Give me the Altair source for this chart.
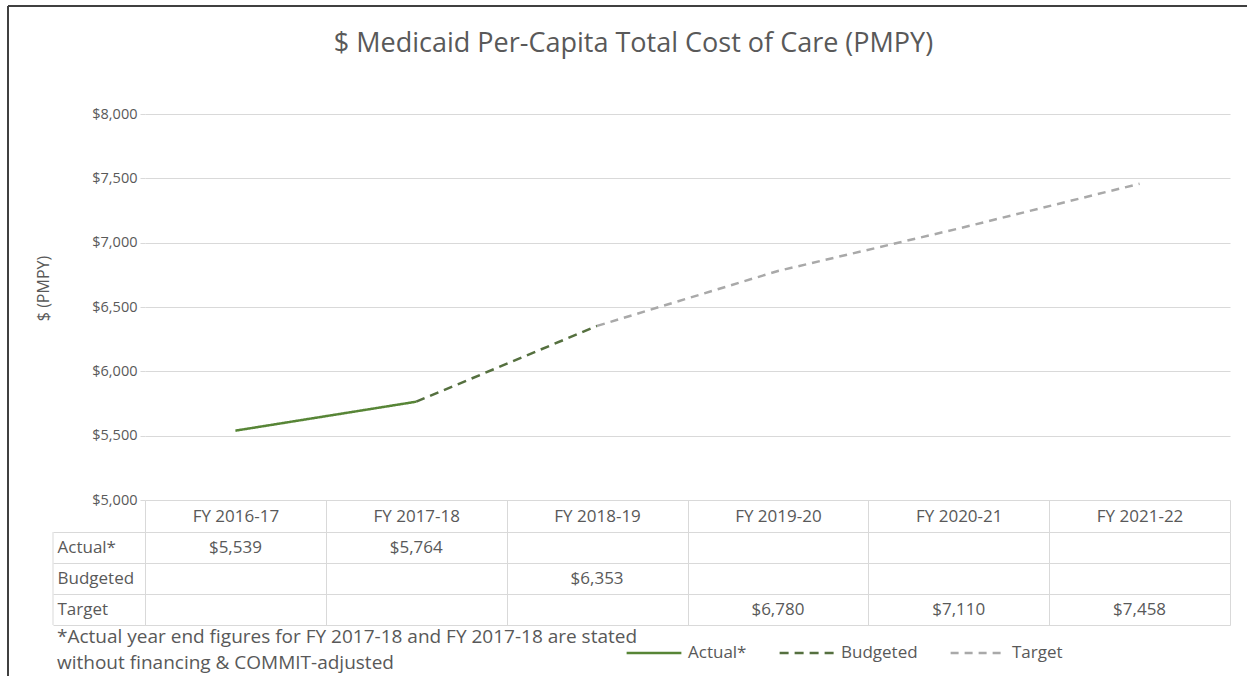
import altair as alt
import pandas as pd

# ---------------- data ----------------
years = ["FY 2016-17", "FY 2017-18", "FY 2018-19", "FY 2019-20", "FY 2020-21", "FY 2021-22"]
series = ["Actual*", "Budgeted", "Target"]
actual = [5539, 5764, None, None, None, None]
budgeted = [None, None, 6353, None, None, None]
target = [None, None, None, 6780, 7110, 7458]
y_ticks = [5000, 5500, 6000, 6500, 7000, 7500, 8000]
footnote = ["*Actual year end figures for FY 2017-18 and FY 2017-18 are stated",
            "without financing & COMMIT-adjusted"]
title_text = "$ Medicaid Per-Capita Total Cost of Care (PMPY)"

colors = ["#578536", "#55703F", "#A9A9A9"]
dashes = [[1, 0], [9, 6], [8, 6]]
TXT = "#595959"
GRID = "#D9D9D9"
FONT = "Open Sans"

series_vals = [actual, budgeted, target]

# line data: each later series starts from the last point of the previous one
line_rows = []
prev_last = None
for name, vals in zip(series, series_vals):
    if prev_last is not None:
        line_rows.append(dict(series=name, year=prev_last[0], value=prev_last[1]))
    for y, v in zip(years, vals):
        if v is not None:
            line_rows.append(dict(series=name, year=y, value=v))
            prev_last = (y, v)
line_df = pd.DataFrame(line_rows)

# table cells
cell_rows = []
for name, vals in zip(series, series_vals):
    for y, v in zip(years, vals):
        if v is not None:
            cell_rows.append(dict(row=name, year=y, label=f"${v:,}"))
cell_df = pd.DataFrame(cell_rows)

one = pd.DataFrame({"k": [0]})

# ---------------- top chart ----------------
legend = alt.Legend(
    orient="none", legendX=480, legendY=510, direction="horizontal", title=None,
    symbolType="stroke", symbolSize=3000, symbolStrokeWidth=2.5,
    labelFontSize=17, labelColor=TXT, labelFont=FONT, columnPadding=27, labelOffset=5,
)

lines = alt.Chart(line_df).mark_line(strokeWidth=2.5).encode(
    x=alt.X("year:N", sort=years, scale=alt.Scale(type="point", domain=years, padding=0.5), axis=None),
    y=alt.Y("value:Q", scale=alt.Scale(domain=[5000, 8000], nice=False),
            axis=alt.Axis(values=y_ticks, format="$,.0f", title="$ (PMPY)",
                          titleFontSize=16, titleFontWeight="normal", titleColor=TXT, titleFont=FONT,
                          titlePadding=40, titleY=174,
                          labelFontSize=14.5, labelColor=TXT, labelFont=FONT, labelPadding=3,
                          domain=False, ticks=True, tickSize=5, tickColor=GRID,
                          grid=True, gridColor=GRID, gridWidth=1.2)),
    color=alt.Color("series:N", scale=alt.Scale(domain=series, range=colors), legend=legend),
    strokeDash=alt.StrokeDash("series:N", scale=alt.Scale(domain=series, range=dashes), legend=legend),
)

frame_top = alt.Chart(one).mark_rule(color="#404040", strokeWidth=2).encode(
    x=alt.value(-137), x2=alt.value(1102), y=alt.value(-108))
frame_left = alt.Chart(one).mark_rule(color="#404040", strokeWidth=2).encode(
    x=alt.value(-137), y=alt.value(-108), y2=alt.value(562))

top = alt.layer(lines, frame_top, frame_left).properties(
    width=1085, height=386,
    title=alt.TitleParams(title_text, fontSize=27, fontWeight="normal", color=TXT, font=FONT,
                          anchor="middle", offset=-53, dx=-54),
)

# ---------------- table chart ----------------
text = alt.Chart(cell_df).mark_text(fontSize=17, color=TXT, font=FONT).encode(
    x=alt.X("year:N", sort=years, bandPosition=0.5,
            scale=alt.Scale(type="band", domain=years, paddingInner=0, paddingOuter=0),
            axis=alt.Axis(orient="top", title=None, labelAngle=0, labelFontSize=17, labelColor=TXT,
                          labelFont=FONT, labelPadding=-16, labelBaseline="middle",
                          tickBand="extent", tickSize=32, tickColor=GRID, domain=False,
                          grid=True, gridColor=GRID)),
    y=alt.Y("row:N", sort=series, bandPosition=0.5,
            scale=alt.Scale(type="band", domain=series, paddingInner=0, paddingOuter=0),
            axis=alt.Axis(title=None, labelAlign="left", labelPadding=-4, labelFontSize=17,
                          labelColor=TXT, labelFont=FONT, tickBand="extent", tickSize=92,
                          tickColor=GRID, domainColor=GRID, grid=True, gridColor=GRID)),
    text="label:N",
)

left_border = alt.Chart(one).mark_rule(color=GRID, strokeWidth=1).encode(
    x=alt.value(-92), y=alt.value(0), y2=alt.value(93))

table = alt.layer(text, left_border).properties(
    width=1085, height=93,
    title=alt.TitleParams(footnote, orient="bottom", anchor="start", frame="group", dx=-88,
                          offset=2, fontSize=19, fontWeight="normal", color=TXT, font=FONT,
                          lineHeight=26),
)

chart = alt.vconcat(top, table, spacing=32, bounds="flush").resolve_scale(
    x="independent", y="independent"
).properties(
    padding={"left": 7, "top": 5, "right": 0, "bottom": 0}, background="white"
).configure(font=FONT).configure_view(stroke=None)

chart.save("out.html", embed_options={"renderer": "svg", "actions": False})
